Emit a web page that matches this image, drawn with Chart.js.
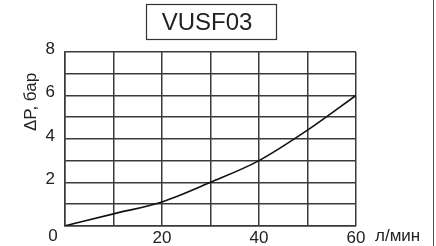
<!DOCTYPE html>
<html>
<head>
<meta charset="utf-8">
<script src="https://cdn.jsdelivr.net/npm/chart.js@4.4.1/dist/chart.umd.min.js"></script>
<style>
html,body{margin:0;padding:0;background:#fff;}
#wrap{width:436px;height:246px;position:relative;}
</style>
</head>
<body>
<div id="wrap"><canvas id="c" width="436" height="246"></canvas></div>
<script>
// Data
const flowRates = [0, 10, 20, 30, 40, 50, 60];          // л/мин
const pressureDrop = [0, 0.55, 1.1, 2.0, 3.0, 4.4, 6.0]; // бар
const xTickLabels = [20, 40, 60];
const yTickLabels = [2, 4, 6, 8];
const chartTitle = 'VUSF03';
const xUnit = 'л/мин';
const yTitle = 'ΔP, бар';
const originLabel = '0';

const FONT = '"Liberation Sans", Arial, sans-serif';
const TXT = '#222';
const GRID = '#3a3a3a';

const extras = {
  id: 'extras',
  afterDraw(chart) {
    const ctx = chart.ctx;
    const xs = chart.scales.x, ys = chart.scales.y;
    ctx.save();
    // title box
    ctx.strokeStyle = '#333';
    ctx.lineWidth = 1.2;
    ctx.strokeRect(146.5, 4.5, 130, 35);
    ctx.fillStyle = TXT;
    ctx.font = '24px ' + FONT;
    ctx.textAlign = 'center';
    ctx.textBaseline = 'middle';
    ctx.fillText(chartTitle, 207, 23);
    // origin label
    ctx.font = '17px ' + FONT;
    ctx.fillText(originLabel, xs.getPixelForValue(0) - 12, ys.getPixelForValue(0) + 10.5);
    // x unit
    ctx.textAlign = 'left';
    ctx.fillText(xUnit, xs.getPixelForValue(60) + 19, ys.getPixelForValue(0) + 10.5);
    // y title
    ctx.translate(31, 102);
    ctx.rotate(-Math.PI / 2);
    ctx.textAlign = 'center';
    ctx.fillText(yTitle, 0, 0);
    ctx.restore();
    // right frame line
    ctx.save();
    ctx.strokeStyle = '#555';
    ctx.lineWidth = 1;
    ctx.beginPath();
    ctx.moveTo(433.5, 0);
    ctx.lineTo(433.5, 246);
    ctx.stroke();
    ctx.restore();
  }
};

new Chart(document.getElementById('c'), {
  type: 'line',
  data: {
    datasets: [{
      data: flowRates.map((x, i) => ({x: x, y: pressureDrop[i]})),
      borderColor: '#111',
      borderWidth: 1.6,
      pointRadius: 0,
      fill: false,
      cubicInterpolationMode: 'monotone'
    }]
  },
  options: {
    responsive: false,
    animation: false,
    devicePixelRatio: 1,
    layout: { padding: { left: 0, right: 80, top: 52, bottom: 0 } },
    plugins: { legend: { display: false }, tooltip: { enabled: false }, title: { display: false } },
    scales: {
      x: {
        type: 'linear',
        min: 0, max: 60,
        afterFit(s) { s.height = 20; },
        grid: { color: GRID, lineWidth: 1.5, drawTicks: false },
        border: { color: GRID, width: 1.5 },
        ticks: {
          stepSize: 10,
          autoSkip: false,
          maxRotation: 0,
          padding: 2,
          color: TXT,
          font: { family: FONT, size: 17 },
          callback: v => xTickLabels.includes(v) ? String(v) : ''
        }
      },
      y: {
        min: 0, max: 8,
        afterFit(s) { s.width = 65; },
        grid: { color: GRID, lineWidth: 1.5, drawTicks: false },
        border: { color: GRID, width: 1.5 },
        ticks: {
          stepSize: 1,
          autoSkip: false,
          padding: 10,
          labelOffset: -3,
          color: TXT,
          font: { family: FONT, size: 17 },
          callback: v => yTickLabels.includes(v) ? String(v) : ''
        }
      }
    }
  },
  plugins: [extras]
});
</script>
</body>
</html>
